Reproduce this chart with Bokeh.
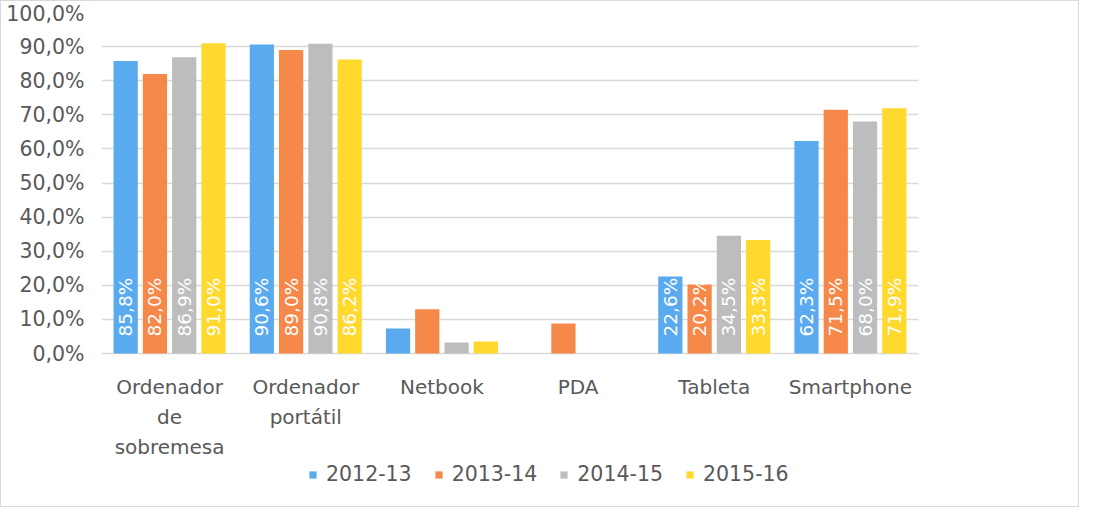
import math
from bokeh.plotting import figure
from bokeh.models import ColumnDataSource, Legend, LegendItem, FixedTicker, CustomJSTickFormatter, FactorRange
from bokeh.transform import dodge
from bokeh.core.properties import value
from bokeh.embed import file_html
from bokeh.resources import INLINE

categories = ["Ordenador de sobremesa", "Ordenador portátil", "Netbook", "PDA", "Tableta", "Smartphone"]
category_lines = [["Ordenador", "de", "sobremesa"], ["Ordenador", "portátil"], ["Netbook"], ["PDA"], ["Tableta"], ["Smartphone"]]
series_names = ["2012-13", "2013-14", "2014-15", "2015-16"]
v_2012_13 = [85.8, 90.6, 7.3, float("nan"), 22.6, 62.3]
v_2013_14 = [82.0, 89.0, 13.0, 8.8, 20.2, 71.5]
v_2014_15 = [86.9, 90.8, 3.2, float("nan"), 34.5, 68.0]
v_2015_16 = [91.0, 86.2, 3.5, float("nan"), 33.3, 71.9]
labelled = [True, True, False, False, True, True]
y_ticks = [0, 10, 20, 30, 40, 50, 60, 70, 80, 90, 100]

series_values = [v_2012_13, v_2013_14, v_2014_15, v_2015_16]
colors = ["#5AAAF0", "#F6884A", "#BDBDBD", "#FFD92E"]
offsets = [-0.3225, -0.1075, 0.1075, 0.3225]

FONT = "DejaVu Sans"
TXT = "#595959"

# layout: frame spans below zero to hold category labels and legend
W, H = 1079, 507
TOP, BOTTOM, LEFT, RIGHT = 11, 5, 100, 162
ZERO_PX = 352            # pixel row of the 0 line inside the figure
px_per_unit = (ZERO_PX - TOP) / 100.0
y_start = -(H - BOTTOM - ZERO_PX) / px_per_unit

p = figure(x_range=FactorRange(*categories), y_range=(y_start, 100), width=W, height=H,
           output_backend="svg", toolbar_location=None,
           min_border_left=LEFT, min_border_right=RIGHT, min_border_top=TOP, min_border_bottom=BOTTOM)
p.x_range.range_padding = 0
p.outline_line_color = None
p.background_fill_color = "white"
p.styles = {"border": "1px solid #D9D9D9", "box-sizing": "border-box"}

p.xgrid.grid_line_color = None
p.ygrid.grid_line_color = "#D9D9D9"
p.ygrid.grid_line_width = 1.3
p.ygrid.ticker = FixedTicker(ticks=y_ticks)

p.yaxis.ticker = FixedTicker(ticks=y_ticks)
p.yaxis.formatter = CustomJSTickFormatter(code="return tick.toFixed(1).replace('.', ',') + '%';")
p.yaxis.axis_line_color = None
p.yaxis.major_tick_line_color = None
p.yaxis.major_tick_out = 0
p.yaxis.major_tick_in = 0
p.yaxis.minor_tick_line_color = None
p.yaxis.major_label_standoff = 17
p.yaxis.major_label_text_font = FONT
p.yaxis.major_label_text_font_size = "20.5px"
p.yaxis.major_label_text_color = TXT

p.xaxis.visible = False

# category labels (multi-line) under the zero line
lab_cat, lab_txt, lab_off = [], [], []
for c, lines in zip(categories, category_lines):
    for i, ln in enumerate(lines):
        lab_cat.append(c)
        lab_txt.append(ln)
        lab_off.append(33 + 30 * i)
csrc = ColumnDataSource(dict(cat=lab_cat, y=[0] * len(lab_cat), t=lab_txt, off=lab_off))
p.text(x="cat", y="y", text="t", y_offset="off", source=csrc, text_align="center",
       text_baseline="middle", text_font=value(FONT), text_font_size="20px", text_color=TXT)

items = []
for name, vals, col, off in zip(series_names, series_values, colors, offsets):
    src = ColumnDataSource(dict(cat=categories, val=vals))
    r = p.vbar(x=dodge("cat", off, range=p.x_range), top="val", width=0.178, source=src,
               fill_color=col, line_color=None)
    items.append(LegendItem(label=name, renderers=[r]))
    lc = [c for c, v, l in zip(categories, vals, labelled) if l and not math.isnan(v)]
    lv = [v for c, v, l in zip(categories, vals, labelled) if l and not math.isnan(v)]
    lt = [("%.1f" % v).replace(".", ",") + "%" for v in lv]
    lsrc = ColumnDataSource(dict(cat=lc, y=[0] * len(lc), t=lt))
    p.text(x=dodge("cat", off, range=p.x_range), y="y", text="t", source=lsrc, angle=math.pi / 2,
           text_align="left", text_baseline="middle", y_offset=-17,
           text_font=value(FONT), text_font_size="18.5px", text_color="white")

legend = Legend(items=items, orientation="horizontal", location=(207, 17),
                border_line_color=None, background_fill_alpha=0,
                glyph_width=9, glyph_height=9, label_standoff=9, spacing=22,
                padding=0, margin=0,
                label_text_font=FONT, label_text_font_size="20.5px", label_text_color=TXT)
p.add_layout(legend, "center")

open("out.html", "w").write(file_html(p, INLINE))
